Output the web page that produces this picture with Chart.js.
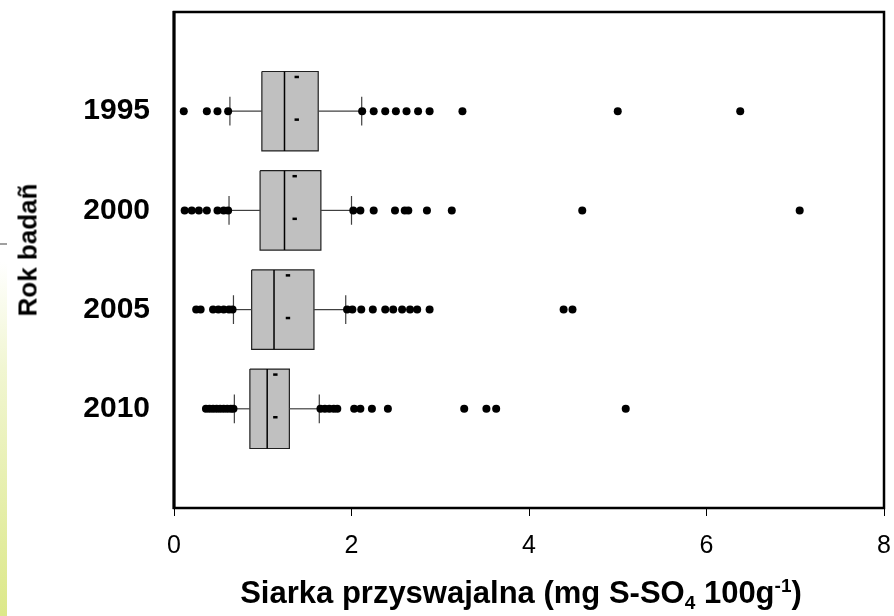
<!DOCTYPE html>
<html>
<head>
<meta charset="utf-8">
<script src="https://cdn.jsdelivr.net/npm/chart.js@4.4.1/dist/chart.umd.min.js"></script>
<style>
  html, body { margin: 0; padding: 0; background: #fff; }
  #wrap { position: relative; width: 894px; height: 616px; }
  #strip { position: absolute; left: 0; top: 262px; width: 7px; height: 354px;
           background: linear-gradient(to bottom, #ffffff, #f1f6d2 30%, #dce889); }
  #dash { position: absolute; left: 0; top: 243px; width: 7px; height: 2px; background: #a0a0a0; }
  #xtitle { position: absolute; left: 0; width: 1042px; top: 575px; text-align: center;
            font: bold 31px "Liberation Sans", Arial, sans-serif; color: #000; white-space: nowrap; }
  #xtitle sub, #xtitle sup { font-size: 19px; }
  #xtitle sub { vertical-align: -6px; }
  #xtitle sup { vertical-align: 11px; }
  #ytitle { position: absolute; left: 28px; top: 250px; transform: translate(-50%, -50%) rotate(-90deg);
            font: bold 26px "Liberation Sans", Arial, sans-serif; color: #000; white-space: nowrap; }
  canvas { position: absolute; left: 0; top: 0; }
</style>
</head>
<body>
<div id="wrap">
  <div id="strip"></div>
  <div id="dash"></div>
  <canvas id="chart" width="894" height="616"></canvas>
  <div id="xtitle">Siarka przyswajalna (mg S-SO<sub>4</sub> 100g<sup>-1</sup>)</div>
  <div id="ytitle">Rok badañ</div>
</div>
<script>
// box plot statistics per year (mg S-SO4 / 100 g)
const years = ['1995', '2000', '2005', '2010'];
const rowPos = [1, 2, 3, 4];
const whiskerLow = [0.63, 0.62, 0.67, 0.68];
const quart1 = [0.99, 0.97, 0.875, 0.855];
const medians = [1.245, 1.245, 1.127, 1.05];
const quart3 = [1.625, 1.655, 1.577, 1.30];
const whiskerHigh = [2.115, 2.0, 1.935, 1.637];
const means = [1.383, 1.36, 1.284, 1.142];

const outliers1995 = [0.11, 0.37, 0.49, 0.61, 2.12, 2.25, 2.38, 2.50, 2.62, 2.75, 2.88, 3.25, 5.00, 6.38];
const outliers2000 = [0.12, 0.20, 0.28, 0.37, 0.49, 0.56, 0.61, 2.02, 2.10, 2.25, 2.49, 2.60, 2.64, 2.85, 3.13, 4.60, 7.05];
const outliers2005 = [0.25, 0.30, 0.44, 0.50, 0.56, 0.62, 0.66, 1.95, 2.01, 2.11, 2.24, 2.38, 2.47, 2.57, 2.66, 2.74, 2.88, 4.39, 4.49];
const outliers2010 = [0.36, 0.40, 0.44, 0.48, 0.52, 0.56, 0.60, 0.64, 0.67, 1.65, 1.70, 1.75, 1.80, 1.84, 2.03, 2.10, 2.23, 2.41, 3.27, 3.52, 3.63, 5.09];
const outliers = [outliers1995, outliers2000, outliers2005, outliers2010];

const xTicks = [0, 2, 4, 6, 8];

// drawing sizes in axis units
const BOX_HALF = 0.4;
const CAP_HALF = 0.145;
const MEAN_OFFS = [-0.345, 0.085];

const FONT = '"Liberation Sans", Arial, sans-serif';
const datasets = [];

function seg(pts, color, width) {
  datasets.push({
    data: pts, showLine: true, borderColor: color, borderWidth: width,
    pointRadius: 0, fill: false, order: 1
  });
}

for (let i = 0; i < years.length; i++) {
  const y = rowPos[i];
  // box
  datasets.push({
    data: [
      {x: quart1[i], y: y - BOX_HALF}, {x: quart3[i], y: y - BOX_HALF},
      {x: quart3[i], y: y + BOX_HALF}, {x: quart1[i], y: y + BOX_HALF},
      {x: quart1[i], y: y - BOX_HALF}
    ],
    showLine: true, fill: 'shape', backgroundColor: '#c0c0c0',
    borderColor: '#202020', borderWidth: 1.2, pointRadius: 0, order: 3
  });
  seg([{x: medians[i], y: y - BOX_HALF}, {x: medians[i], y: y + BOX_HALF}], '#000', 1.5);
  seg([{x: whiskerLow[i], y: y}, {x: quart1[i], y: y}], '#404040', 1.2);
  seg([{x: quart3[i], y: y}, {x: whiskerHigh[i], y: y}], '#404040', 1.2);
  seg([{x: whiskerLow[i], y: y - CAP_HALF}, {x: whiskerLow[i], y: y + CAP_HALF}], '#404040', 1.2);
  seg([{x: whiskerHigh[i], y: y - CAP_HALF}, {x: whiskerHigh[i], y: y + CAP_HALF}], '#404040', 1.2);
  // mean marks
  datasets.push({
    data: MEAN_OFFS.map(o => ({x: means[i], y: y + o})),
    pointStyle: 'line', pointRadius: 2.2, borderColor: '#000', borderWidth: 2.5,
    showLine: false, order: 0
  });
  // outliers
  datasets.push({
    data: outliers[i].map(v => ({x: v, y: y})),
    pointStyle: 'circle', pointRadius: 4, backgroundColor: '#000',
    borderWidth: 0, showLine: false, order: 0
  });
}

const framePlugin = {
  id: 'frame',
  afterDatasetsDraw(chart) {
    const a = chart.chartArea;
    const ctx = chart.ctx;
    ctx.save();
    ctx.strokeStyle = '#000';
    ctx.lineWidth = 2.5;
    ctx.strokeRect(a.left, a.top, a.right - a.left, a.bottom - a.top);
    ctx.lineWidth = 3;
    ctx.beginPath();
    ctx.moveTo(a.left, a.top - 1);
    ctx.lineTo(a.left, a.bottom + 1);
    ctx.stroke();
    ctx.restore();
  }
};

new Chart(document.getElementById('chart').getContext('2d'), {
  type: 'scatter',
  data: { datasets: datasets },
  plugins: [framePlugin],
  options: {
    responsive: false,
    animation: false,
    layout: { padding: { top: 12, right: 10, bottom: 0, left: 0 } },
    plugins: { legend: { display: false }, tooltip: { enabled: false } },
    scales: {
      x: {
        type: 'linear', min: 0, max: 8,
        afterBuildTicks: s => { s.ticks = xTicks.map(v => ({value: v})); },
        afterFit: s => { s.height = 108; s.paddingLeft = 0; s.paddingRight = 0; },
        grid: { display: true, drawOnChartArea: false, drawTicks: true, tickLength: 8, color: '#000', lineWidth: 1 },
        border: { display: false },
        ticks: { color: '#000', font: { family: FONT, size: 25 }, padding: 15, maxRotation: 0 }
      },
      y: {
        type: 'linear', min: 0, max: 5, reverse: true,
        afterBuildTicks: s => { s.ticks = rowPos.map(v => ({value: v})); },
        afterFit: s => { s.width = 174; s.paddingTop = 0; s.paddingBottom = 0; },
        grid: { display: false, drawTicks: false },
        border: { display: false },
        ticks: {
          color: '#000', font: { family: FONT, size: 30, weight: 'bold' }, padding: 24,
          callback: v => years[rowPos.indexOf(v)] || ''
        }
      }
    }
  }
});
</script>
</body>
</html>
